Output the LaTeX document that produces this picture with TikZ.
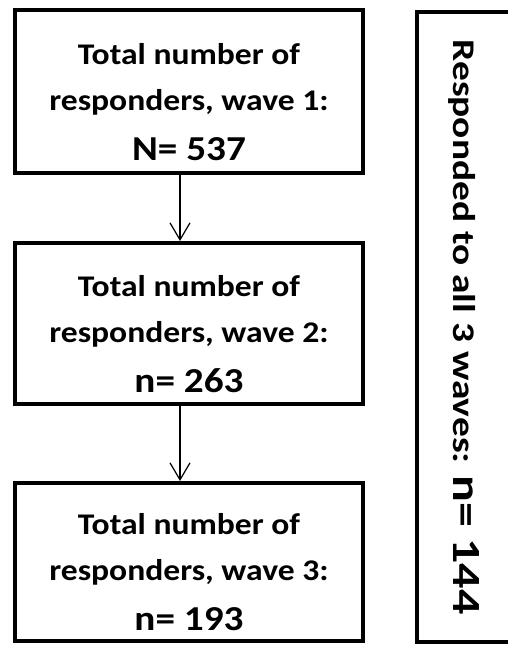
\documentclass[tikz,border=0pt]{standalone}
\usepackage{fontspec}
\setmainfont{Carlito}
\usetikzlibrary{arrows.meta}

\begin{document}
\begin{tikzpicture}[x=1pt,y=1pt]
        \tikzset{box/.style = {draw, line width=4pt, align=center, inner sep=0pt,
                font=\fontsize{30}{46}\selectfont\bfseries}}
        \tikzset{wave/.style = {box, xscale=1.12, minimum width=310}}
        \tikzset{edge/.style = {-{Straight Barb[length=17pt,width=20pt]}, line width=1.2pt}}
        \newcommand{\bigcount}[1]{{\fontsize{35}{48}\selectfont #1}}
        \useasboundingbox (0,0) rectangle (508,-646);
        % boxes
        \node[wave, minimum height=163] (w1) at (189,-91.5)
                {\rule{0pt}{42pt}Total number of\\responders, wave 1:\\[4pt]\bigcount{N= 537}};
        \node[wave, minimum height=161] (w2) at (189,-323.5)
                {\rule{0pt}{42pt}Total number of\\responders, wave 2:\\[4pt]\bigcount{n= 263}};
        \node[wave, minimum height=158] (w3) at (189,-562)
                {\rule{0pt}{42pt}Total number of\\responders, wave 3:\\[4pt]\bigcount{n= 193}};
        \node[box, rotate=-90, xscale=1.25, minimum width=504, minimum height=95,
                font=\fontsize{31.5}{40}\selectfont\bfseries] (all) at (464.5,-327)
                {Responded to all 3 waves: {\fontsize{40}{48}\selectfont n= 144}};
        % arrows
        \draw[edge] ([xshift=-9pt]w1.south) -- ([xshift=-9pt]w2.north);
        \draw[edge] ([xshift=-9pt]w2.south) -- ([xshift=-9pt]w3.north);
\end{tikzpicture}
\end{document}
